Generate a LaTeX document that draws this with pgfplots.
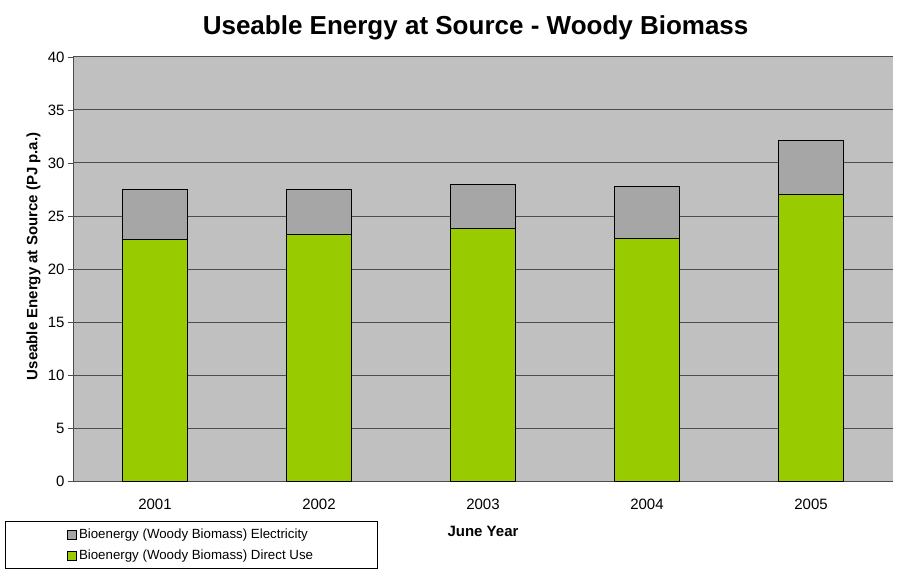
\documentclass[border=0pt]{standalone}
\usepackage{pgfplots}
\pgfplotsset{compat=1.18}
\usepackage{fontspec}
\setmainfont{Liberation Sans}
\definecolor{plotbg}{HTML}{C0C0C0}
\definecolor{elecgray}{HTML}{A6A6A6}
\definecolor{directgreen}{HTML}{99CC00}
\definecolor{gridgray}{HTML}{4D4D4D}
\begin{document}
\begin{tikzpicture}
\path[use as bounding box] (0,0) rectangle (898pt,574pt);
\begin{axis}[
  at={(73pt,93pt)}, anchor=south west,
  scale only axis,
  width=820pt, height=424pt,
  ybar stacked,
  bar width=65pt,
  xmin=-0.5, xmax=4.5,
  ymin=0, ymax=40,
  axis background/.style={fill=plotbg},
  axis lines*=left,
  axis line style={gridgray, line width=1pt, -},
  xtick={0,1,2,3,4},
  xticklabels={2001,2002,2003,2004,2005},
  major x tick style={draw=none},
  extra x ticks={0.5,1.5,2.5,3.5,4.5},
  extra x tick labels={},
  extra x tick style={tick style={draw=gridgray, line width=0.8pt}, major tick length=5pt, grid=none},
  ytick={0,5,...,40},
  ymajorgrids,
  major grid style={gridgray, line width=1pt},
  y tick style={draw=gridgray, line width=0.8pt},
  tick align=outside,
  major tick length=5pt,
  /pgf/number format/assume math mode=true,
  ticklabel style={font=\fontsize{15}{17}\selectfont},
  xticklabel style={yshift=-9pt},
  title={\textbf{Useable Energy at Source - Woody Biomass}},
  title style={font=\fontsize{26}{30}\selectfont, at={(axis description cs:0.491,1.055)}, anchor=center},
  xlabel={\textbf{June Year}},
  xlabel style={font=\fontsize{15}{17}\selectfont, at={(axis description cs:0.5,-0.118)}, anchor=center},
  ylabel={\textbf{Useable Energy at Source (PJ p.a.)}},
  ylabel style={font=\fontsize{15}{17}\selectfont, at={(axis description cs:-0.048,0.53)}, anchor=center, rotate=0},
  reverse legend,
  legend style={
    at={(axis description cs:-0.0829,-0.2075)}, anchor=south west,
    draw=black, line width=0.8pt, fill=white,
    font=\fontsize{13.3}{15}\selectfont,
    inner xsep=62pt,
    row sep=6pt, inner ysep=5.5pt,
    cells={anchor=west},
    xshift=0pt,
  },
  legend image code/.code={\draw[#1, draw=black, line width=0.6pt] (0pt,-4.5pt) rectangle (9pt,4.5pt);},
]
% Direct use (lower segment)
\addplot[fill=directgreen, draw=black, line width=0.8pt] coordinates {
  (0,22.76) (1,23.30) (2,23.80) (3,22.85) (4,27.05)
};
% Electricity (upper segment)
\addplot[fill=elecgray, draw=black, line width=0.8pt] coordinates {
  (0,4.74) (1,4.20) (2,4.15) (3,4.95) (4,5.05)
};
\legend{Bioenergy (Woody Biomass) Direct Use, Bioenergy (Woody Biomass) Electricity}
\end{axis}
\end{tikzpicture}
\end{document}
